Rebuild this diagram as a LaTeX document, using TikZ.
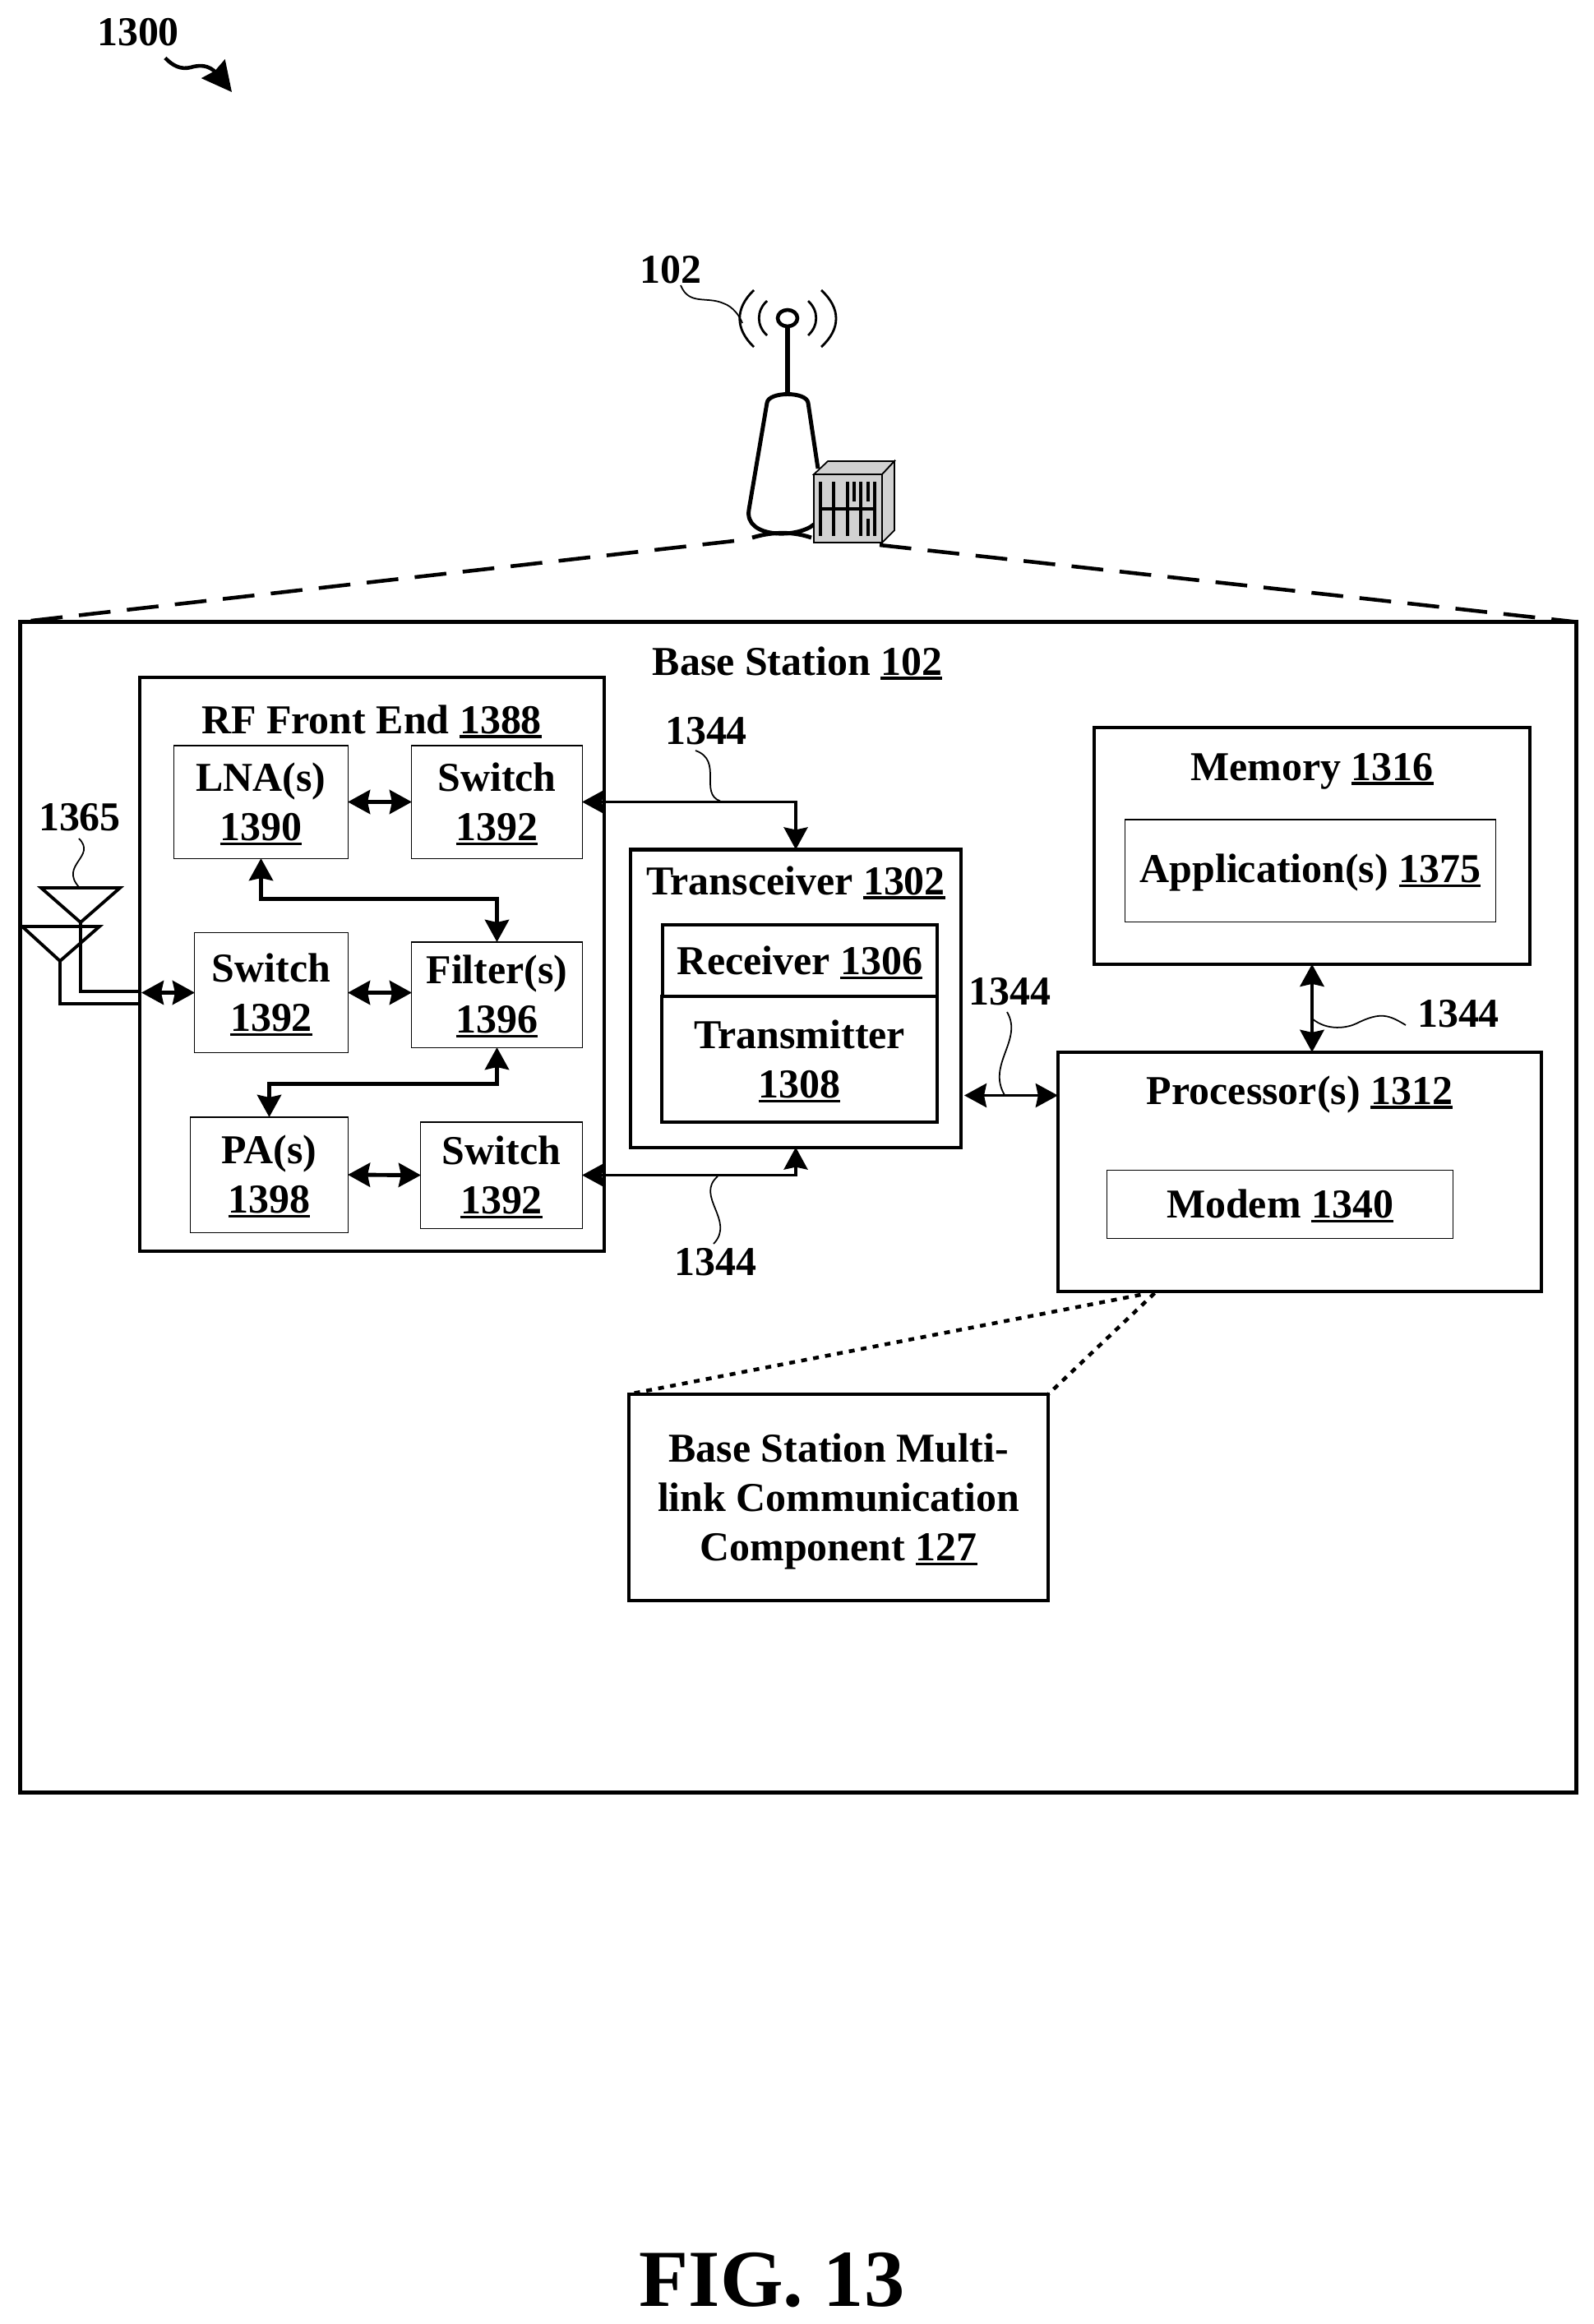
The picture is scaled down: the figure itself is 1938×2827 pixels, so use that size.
\documentclass[tikz,border=0pt]{standalone}
\usepackage{fontspec}
\setmainfont{Liberation Serif}
\usetikzlibrary{arrows.meta}
\newcommand{\refnum}[1]{\setbox0\hbox{#1}\rlap{\rule[-1.6pt]{\wd0}{0.9pt}}\box0}
\newcommand{\lift}{\rule{0pt}{11pt}}
\tikzset{   >={Stealth[length=2.7mm,width=2.9mm,inset=0.3mm]},
            txt/.style = {inner sep=0pt, outer sep=0pt, font=\fontsize{14.2}{17.07}\selectfont\bfseries, align=center},
            thickbox/.style = {draw, line width=1.2pt, rectangle, inner sep=0pt, outer sep=0pt},
            thinbox/.style = {txt, draw, line width=0.3pt, rectangle},
            wire/.style = {line width=1.4pt},
            bus/.style = {line width=1pt},
            leader/.style = {line width=0.5pt},
            tower/.style = {line width=1.4pt},
            feed/.style = {line width=1.1pt}}

\begin{document}
\begin{tikzpicture}[x=0.01cm,y=-0.01cm]
    \useasboundingbox(0,0)rectangle(1938,2827);

    % figure number
    \node[txt,anchor=base](n1300)at(168,55){1300};
    \coordinate(p1300)at(282,112);
    \draw[-{Stealth[length=3.6mm,width=3.6mm,inset=0.3mm]},line width=1.3pt](n1300.south east)+(-17,15)..controls(210,80)and(220,85)..(232,82)..controls(248,77)and(258,82)..(266,92)--(p1300);

    % tower with cabinet
    \node[txt,anchor=base](n102)at(816,344){102};
    \draw[tower](995,570)--(983,490)..controls(981,476)and(935,476)..(933,490)--(911,620)..controls(905,655)and(970,655)..(990,638);
    \draw[line width=1.8pt](958,477)--(958,398);
    \draw[line width=1.3pt](958,387)ellipse(12 and 10);
    \draw[line width=0.8pt](917,353)..controls(894,375)and(894,400)..(917,422);
    \draw[line width=0.8pt](933,366)..controls(920,378)and(920,396)..(933,408);
    \draw[line width=0.8pt](999,353)..controls(1023,375)and(1023,400)..(999,422);
    \draw[line width=0.8pt](983,366)..controls(996,378)and(996,396)..(983,408);
    \coordinate(a102)at(903,393);
    \draw[leader](828,347)..controls(838,372)and(860,360)..(880,369)..controls(892,373)and(900,385)..(a102);
    \draw[tower](915,654)..controls(935,648)and(960,645)..(987,654);
    \filldraw[fill=black!18,line width=0.5pt](990,577)rectangle(1073,660);
    \filldraw[fill=black!18,line width=0.5pt](990,577)--(1007,561)--(1088,561)--(1073,577)--cycle;
    \filldraw[fill=black!18,line width=0.5pt](1073,577)--(1088,561)--(1088,645)--(1073,660)--cycle;
    \foreach \x in {998,1014,1031,1047,1064}
        \draw[line width=1pt](\x,586)--(\x,652);
    \draw[line width=1pt](998,619)--(1064,619);
    \draw[line width=1pt](1039,586)--(1039,610);
    \draw[line width=1pt](1056,586)--(1056,610);
    \draw[line width=1pt](1056,631)--(1056,652);

    % base station frame
    \node[thickbox,minimum width=18.92cm,minimum height=14.23cm](bs)at(971,1468.5){};
    \node[txt,anchor=base](tbs)at(970,821){Base Station \refnum{102}};
    \coordinate(dl)at(893,658);
    \coordinate(dr)at(1070,663);
    \draw[line width=1.3pt,dash pattern=on 11pt off 5.7pt](dl)--(bs.north west);
    \draw[line width=1.3pt,dash pattern=on 11pt off 5.7pt](dr)--(bs.north east);

    % RF front end
    \node[thickbox,minimum width=5.65cm,minimum height=6.98cm](rf)at(452.5,1173){};
    \node[txt,anchor=base](trf)at(452,892){RF Front End \refnum{1388}};
    \node[thinbox,minimum width=2.11cm,minimum height=1.37cm](lna)at(317.5,975.5){\lift LNA(s)\\\refnum{1390}};
    \node[thinbox,minimum width=2.07cm,minimum height=1.37cm](sw1)at(604.5,975.5){\lift Switch\\\refnum{1392}};
    \node[thinbox,minimum width=1.86cm,minimum height=1.455cm](sw2)at(330,1207.5){\lift Switch\\\refnum{1392}};
    \node[thinbox,minimum width=2.07cm,minimum height=1.28cm](fil)at(604.5,1210){\lift Filter(s)\\\refnum{1396}};
    \node[thinbox,minimum width=1.91cm,minimum height=1.40cm](pa)at(327.5,1429){\lift PA(s)\\\refnum{1398}};
    \node[thinbox,minimum width=1.96cm,minimum height=1.29cm](sw3)at(610,1429.5){\lift Switch\\\refnum{1392}};
    \draw[<->,wire](lna.east)--(sw1.west);
    \draw[<->,wire](sw2.east)--(sw2.east-|fil.west);
    \draw[<->,wire](pa.east)--(sw3.west);
    \draw[<->,wire](lna.south)--++(0,49)-|(fil.north);
    \draw[<->,wire](fil.south)--++(0,44)-|(pa.north);

    % antennas
    \node[txt,anchor=base](n1365)at(97,1010){1365};
    \coordinate(ant1)at(98,1122);
    \coordinate(ant2)at(73,1169);
    \coordinate(in1)at(170,1206);
    \coordinate(in2)at(170,1221);
    \coordinate(in3)at(172,1207.5);
    \draw[feed](50,1080)--(146,1080)--(ant1)--cycle;
    \draw[feed](27,1127)--(121,1127)--(ant2)--cycle;
    \draw[feed](ant1)|-(in1);
    \draw[feed](ant2)|-(in2);
    \draw[<->,wire](in3)--(sw2.west);
    \draw[leader](96,1020)..controls(118,1042)and(72,1052)..(96,1079);

    % transceiver
    \node[thickbox,minimum width=4.02cm,minimum height=3.62cm](trx)at(968,1214.5){};
    \node[txt,anchor=base](ttrx)at(968,1088){Transceiver \refnum{1302}};
    \node[txt,thickbox,minimum width=3.34cm,minimum height=0.865cm](rx)at(973,1168.5){\lift Receiver \refnum{1306}};
    \node[txt,thickbox,minimum width=3.35cm,minimum height=1.53cm](tx)at(972.5,1288.5){\lift Transmitter\\\refnum{1308}};
    \draw[<->,bus](sw1.east)-|(trx.north);
    \draw[<->,bus](sw3.east)-|(trx.south);
    \node[txt,anchor=base](n1344a)at(859,905){1344};
    \node[txt,anchor=base](n1344b)at(870.5,1551){1344};
    \draw[leader](846,913)..controls(880,925)and(850,965)..(876,974.4);
    \draw[leader](873,1431)..controls(845,1455)and(895,1485)..(868,1513);

    % memory
    \node[thickbox,minimum width=5.30cm,minimum height=2.875cm](mem)at(1596,1029){};
    \node[txt,anchor=base](tmem)at(1596,949){Memory \refnum{1316}};
    \node[thinbox,minimum width=4.505cm,minimum height=1.24cm](app)at(1594,1059){\lift Application(s) \refnum{1375}};

    % processor
    \node[thickbox,minimum width=5.88cm,minimum height=2.91cm](pro)at(1581,1425.5){};
    \node[txt,anchor=base](tpro)at(1581,1343){Processor(s) \refnum{1312}};
    \node[thinbox,minimum width=4.215cm,minimum height=0.825cm](mod)at(1557,1465){\lift Modem \refnum{1340}};
    \coordinate(busr)at(1173,1332.5);
    \draw[<->,bus](busr)--(busr-|pro.west);
    \draw[<->,wire](mem.south)--(mem.south|-pro.north);
    \node[txt,anchor=base](n1344c)at(1228.5,1222){1344};
    \node[txt,anchor=base](n1344d)at(1774,1249){1344};
    \draw[leader](1225,1231)..controls(1245,1265)and(1200,1295)..(1222,1332);
    \draw[leader](1596,1239)..controls(1615,1255)and(1640,1250)..(1650,1245)..controls(1680,1230)and(1690,1235)..(1710,1247);

    % multi-link component
    \node[txt,thickbox,minimum width=5.10cm,minimum height=2.51cm](ml)at(1020,1821.5){\rule{0pt}{12.5pt}Base Station Multi-\\link Communication\\Component \refnum{127}};
    \coordinate(cl)at(1387.5,1575);
    \coordinate(cr)at(1404.5,1573);
    \draw[line width=1.3pt,dash pattern=on 2pt off 2.2pt](cl)--(ml.north west);
    \draw[line width=1.3pt,dash pattern=on 2pt off 2.2pt](cr)--(ml.north east);

    \node[txt,anchor=base,font=\fontsize{28}{30}\selectfont\bfseries](fig)at(939,2805){FIG. 13};
\end{tikzpicture}
\end{document}
